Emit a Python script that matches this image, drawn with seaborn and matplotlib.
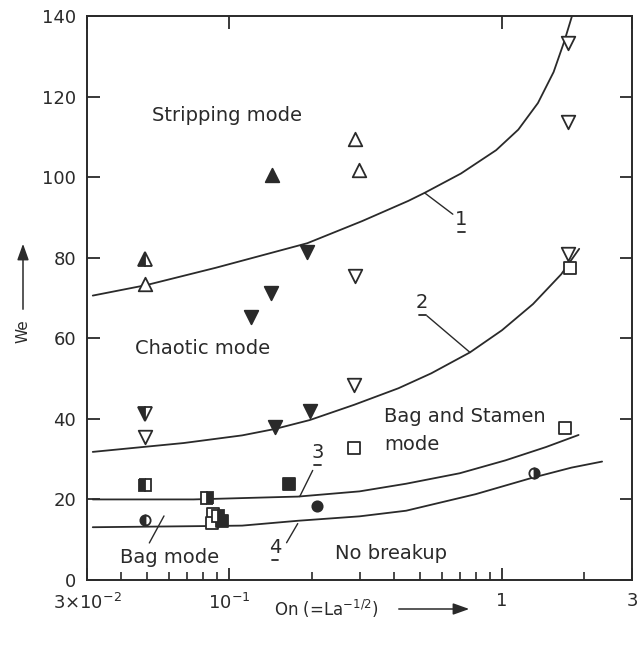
import numpy as np
import pandas as pd
import matplotlib
matplotlib.use("Agg")
import matplotlib.pyplot as plt
import seaborn as sns
from matplotlib.ticker import FixedLocator, NullFormatter

sns.set_style("ticks")
plt.rcParams["font.family"] = ["DejaVu Sans"]
plt.rcParams["mathtext.default"] = "regular"

INK = "#2a2a2a"

# ---------------- data ----------------
# Stripping mode (upward triangles)
strip_open_x = [0.290, 0.298, 0.049]
strip_open_y = [109.4, 101.7, 73.5]
strip_filled_x = [0.1435]
strip_filled_y = [100.6]
strip_half_x = [0.049]
strip_half_y = [79.7]

# Chaotic mode (downward triangles)
chaos_open_x = [0.290, 0.287, 0.049, 1.74, 1.75, 1.74]
chaos_open_y = [75.5, 48.3, 35.5, 133.2, 113.7, 80.9]
chaos_filled_x = [0.193, 0.1418, 0.120, 0.1468, 0.197]
chaos_filled_y = [81.5, 71.2, 65.4, 38.1, 41.9]
chaos_half_x = [0.049]
chaos_half_y = [41.3]

# Bag and stamen / bag (squares)
sq_open_x = [0.286, 1.71, 1.77, 0.087, 0.086]
sq_open_y = [32.7, 37.7, 77.4, 16.5, 14.2]
sq_filled_x = [0.1649, 0.094]
sq_filled_y = [23.9, 14.6]
sq_half_left_x = [0.049]
sq_half_left_y = [23.7]
sq_half_right_x = [0.083, 0.091]
sq_half_right_y = [20.3, 16.0]

# Circles
circ_filled_x = [0.2094]
circ_filled_y = [18.4]
circ_half_left_x = [0.049]
circ_half_left_y = [15.0]
circ_half_right_x = [1.31]
circ_half_right_y = [26.5]

# Boundary curves
c1_x = [0.0315, 0.0495, 0.089, 0.193, 0.307, 0.453, 0.520, 0.707, 0.952, 1.148, 1.355, 1.547, 1.693, 1.807]
c1_y = [70.6, 73.2, 77.5, 83.6, 89.1, 94.1, 96.1, 100.9, 106.7, 111.8, 118.4, 126.1, 133.7, 140.0]
c2_x = [0.0315, 0.0679, 0.1113, 0.147, 0.197, 0.287, 0.417, 0.55, 0.763, 1.0, 1.30, 1.65, 1.92]
c2_y = [31.8, 34.0, 35.9, 37.5, 39.7, 43.5, 47.6, 51.3, 56.5, 62.0, 68.5, 75.9, 82.2]
c3_x = [0.0315, 0.0737, 0.155, 0.178, 0.30, 0.445, 0.70, 1.03, 1.45, 1.91]
c3_y = [20.0, 20.0, 20.6, 20.7, 22.0, 23.9, 26.5, 29.7, 33.0, 36.0]
c4_x = [0.0315, 0.0846, 0.1113, 0.178, 0.30, 0.445, 0.80, 1.28, 1.80, 2.33]
c4_y = [13.1, 13.4, 13.5, 14.7, 15.8, 17.2, 21.3, 25.3, 27.9, 29.4]

x_tick_vals = [0.03, 0.1, 1, 3]
x_tick_labels = [r"$3{\times}10^{-2}$", r"$10^{-1}$", "1", "3"]
y_tick_vals = [0, 20, 40, 60, 80, 100, 120, 140]

# ---------------- figure ----------------
W, H = 641, 659
fig = plt.figure(figsize=(W / 100, H / 100), dpi=100)
ax = fig.add_axes([87 / W, (H - 580) / H, (632 - 87) / W, (580 - 16) / H])
ax.set_xscale("log")
ax.set_xlim(0.03, 3)
ax.set_ylim(0, 140)

for cx, cy in [(c1_x, c1_y), (c2_x, c2_y), (c3_x, c3_y), (c4_x, c4_y)]:
    sns.lineplot(x=cx, y=cy, ax=ax, color=INK, lw=1.3, sort=False, estimator=None)

def scat(xs, ys, marker, filled, size):
    sns.scatterplot(x=xs, y=ys, ax=ax, marker=marker, s=size,
                    color=INK if filled else "white", edgecolor=INK,
                    linewidth=1.3, zorder=5)

scat(strip_open_x, strip_open_y, "^", False, 95)
scat(strip_filled_x, strip_filled_y, "^", True, 95)
scat(chaos_open_x, chaos_open_y, "v", False, 95)
scat(chaos_filled_x, chaos_filled_y, "v", True, 95)
scat(sq_open_x, sq_open_y, "s", False, 80)
scat(sq_filled_x, sq_filled_y, "s", True, 80)
scat(circ_filled_x, circ_filled_y, "o", True, 55)

def half(xs, ys, marker, side, ms):
    ax.plot(xs, ys, linestyle="none", marker=marker, markersize=ms,
            fillstyle=side, markerfacecolor=INK, markerfacecoloralt="white",
            markeredgecolor=INK, markeredgewidth=1.3, zorder=6)

half(strip_half_x, strip_half_y, "^", "left", 9.7)
half(chaos_half_x, chaos_half_y, "v", "left", 9.7)
half(sq_half_left_x, sq_half_left_y, "s", "left", 8.9)
half(sq_half_right_x, sq_half_right_y, "s", "right", 8.9)
half(circ_half_left_x, circ_half_left_y, "o", "left", 7.4)
half(circ_half_right_x, circ_half_right_y, "o", "right", 7.4)

# ---------------- axes styling ----------------
for sp in ax.spines.values():
    sp.set_visible(True)
    sp.set_color(INK)
    sp.set_linewidth(1.4)

ax.xaxis.set_major_locator(FixedLocator(x_tick_vals))
ax.set_xticklabels(x_tick_labels)
minor = [k * 10.0 ** e for e in (-2, -1, 0) for k in range(2, 10)]
minor = [m for m in minor if 0.03 < m < 3 and m not in (0.1, 1)]
ax.xaxis.set_minor_locator(FixedLocator(minor))
ax.xaxis.set_minor_formatter(NullFormatter())
ax.set_yticks(y_tick_vals)
ax.tick_params(axis="both", which="major", direction="in", length=9, width=1.3,
               color=INK, labelsize=13, labelcolor=INK, top=True, right=True)
ax.tick_params(axis="x", which="major", pad=9)
ax.tick_params(axis="y", which="major", pad=8)
ax.tick_params(axis="x", which="minor", direction="in", length=6, width=1.2,
               color=INK, top=False)
ax.set_xlabel("")
ax.set_ylabel("")

# ---------------- annotations ----------------
tk = dict(color=INK, fontsize=14)
ax.text(0.052, 115.4, "Stripping mode", va="center", ha="left", **tk)
ax.text(0.045, 57.5, "Chaotic mode", va="center", ha="left", **tk)
ax.text(0.369, 40.5, "Bag and Stamen", va="center", ha="left", **tk)
ax.text(0.369, 33.6, "mode", va="center", ha="left", **tk)
ax.text(0.0397, 5.5, "Bag mode", va="center", ha="left", **tk)
ax.text(0.244, 6.7, "No breakup", va="center", ha="left", **tk)

def num(x, y, s):
    ax.text(x, y, s, ha="center", va="baseline", **tk)
    ax.plot([x / 1.028, x * 1.028], [y - 1.7, y - 1.7], color=INK, lw=1.3)

lead = dict(arrowstyle="-", color=INK, lw=1.0, shrinkA=0, shrinkB=0)
ax.annotate("", xy=(0.520, 96.1), xytext=(0.66, 90.8), arrowprops=lead)
num(0.71, 88.0, "1")
ax.annotate("", xy=(0.763, 56.5), xytext=(0.53, 65.6), arrowprops=lead)
num(0.51, 67.6, "2")
ax.annotate("", xy=(0.181, 20.7), xytext=(0.202, 27.2), arrowprops=lead)
num(0.21, 30.2, "3")
ax.annotate("", xy=(0.178, 14.0), xytext=(0.162, 9.25), arrowprops=lead)
num(0.147, 6.6, "4")
ax.annotate("", xy=(0.0575, 15.9), xytext=(0.0508, 9.2), arrowprops=lead)

# axis titles with arrows
fig.text(326 / W, (H - 609) / H, r"On (=La$^{-1/2}$)", ha="center", va="center",
         color=INK, fontsize=12)
fig.add_artist(matplotlib.patches.FancyArrowPatch(
    (396 / W, (H - 609) / H), (472 / W, (H - 609) / H),
    transform=fig.transFigure, arrowstyle="-|>,head_length=0.7,head_width=0.25",
    color=INK, lw=1.1, mutation_scale=14))
fig.text(23 / W, (H - 331) / H, "We", rotation=90, ha="center", va="center",
         color=INK, fontsize=11)
fig.add_artist(matplotlib.patches.FancyArrowPatch(
    (23 / W, (H - 312) / H), (23 / W, (H - 241) / H),
    transform=fig.transFigure, arrowstyle="-|>,head_length=0.7,head_width=0.25",
    color=INK, lw=1.1, mutation_scale=14))

fig.savefig("out.png", dpi=100, facecolor="white")
